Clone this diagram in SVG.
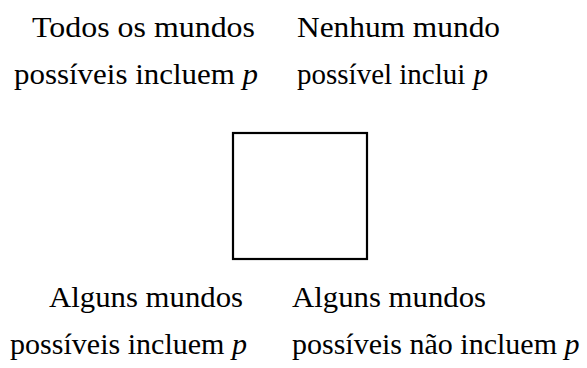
<svg xmlns="http://www.w3.org/2000/svg" width="587" height="368" viewBox="0 0 587 368">
<style>
.t{font-family:"Liberation Serif","Times New Roman",serif;font-size:30px;fill:#000}
.i{font-style:italic}
</style>
<rect width="587" height="368" fill="#fff"/>
<g id="square">
<rect x="233" y="133" width="134" height="126" fill="none" stroke="#000" stroke-width="2.2"/>
</g>
<g id="top-left">
<text class="t" x="32" y="36.5" textLength="223" lengthAdjust="spacingAndGlyphs">Todos os mundos</text>
<text class="t" x="14" y="84" textLength="244" lengthAdjust="spacingAndGlyphs">possíveis incluem <tspan class="i">p</tspan></text>
</g>
<g id="top-right">
<text class="t" x="297" y="36.5" textLength="203" lengthAdjust="spacingAndGlyphs">Nenhum mundo</text>
<text class="t" x="297" y="84" style="font-size:29px">possível inclui <tspan class="i" dx="1">p</tspan></text>
</g>
<g id="bottom-left">
<text class="t" x="49" y="306.5" textLength="194" lengthAdjust="spacingAndGlyphs">Alguns mundos</text>
<text class="t" x="10" y="354" textLength="237" lengthAdjust="spacingAndGlyphs">possíveis incluem <tspan class="i">p</tspan></text>
</g>
<g id="bottom-right">
<text class="t" x="292" y="306.5" textLength="194" lengthAdjust="spacingAndGlyphs">Alguns mundos</text>
<text class="t" x="292" y="354">possíveis não incluem <tspan class="i">p</tspan></text>
</g>
<g id="connectors"></g>
</svg>
